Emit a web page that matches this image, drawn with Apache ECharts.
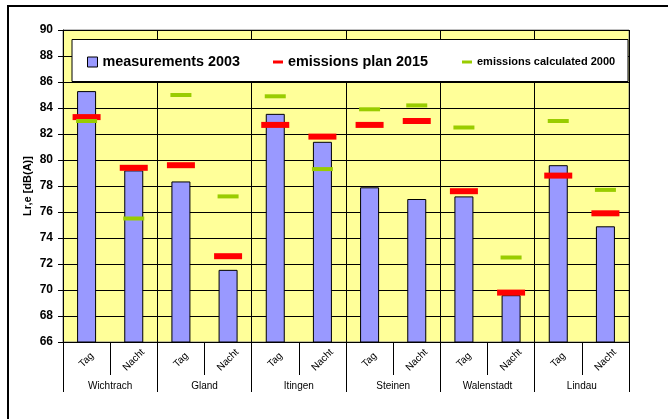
<!DOCTYPE html>
<html>
<head>
<meta charset="utf-8">
<script src="https://cdn.jsdelivr.net/npm/echarts@6/dist/echarts.min.js"></script>
<style>
html,body{margin:0;padding:0;background:#fff;}
#c{width:668px;height:419px;}
</style>
</head>
<body>
<div id="c"></div>
<script>
var groups = ['Wichtrach', 'Gland', 'Itingen', 'Steinen', 'Walenstadt', 'Lindau'];
var periods = ['Tag', 'Nacht'];
var measurements2003 = [85.3, 79.2, 78.35, 71.55, 83.55, 81.4, 77.9, 77.0, 77.2, 69.6, 79.6, 74.9];
var plan2015 = [83.3, 79.4, 79.6, 72.6, 82.7, 81.8, 82.7, 83.0, 77.6, 69.8, 78.8, 75.9];
var calc2000 = [83.0, 75.5, 85.0, 77.2, 84.9, 79.3, 83.9, 84.2, 82.5, 72.5, 83.0, 77.7];
var yMin = 66, yMax = 90, yStep = 2;

var categories = [];
groups.forEach(function () { periods.forEach(function (p) { categories.push(p); }); });

var FONT = "'Liberation Sans', Arial, sans-serif";
var chart = echarts.init(document.getElementById('c'), null, {renderer: 'canvas'});
chart.setOption({
  animation: false,
  backgroundColor: '#ffffff',
  textStyle: {fontFamily: FONT},
  graphic: [
    {type: 'rect', z: 0, shape: {x: 8, y: 6, width: 700, height: 460},
     style: {fill: 'none', stroke: '#000', lineWidth: 2}},
    {type: 'rect', z: 10, shape: {x: 72, y: 39.5, width: 556, height: 42},
     style: {fill: '#ffffff', stroke: '#000', lineWidth: 1}}
  ],
  legend: [
    {z: 20, left: 87, top: 54, padding: 0, itemWidth: 10, itemHeight: 10,
     data: [{name: 'measurements 2003', icon: 'rect', itemStyle: {color: '#9999FF', borderColor: '#000', borderWidth: 1}}],
     textStyle: {fontFamily: FONT, fontSize: 14.4, lineHeight: 16, fontWeight: 'bold', color: '#000'}},
    {z: 20, left: 273, top: 54, padding: 0, itemWidth: 10, itemHeight: 3,
     data: [{name: 'emissions plan 2015', icon: 'rect', itemStyle: {color: '#FF0000', borderWidth: 0}}],
     textStyle: {fontFamily: FONT, fontSize: 14.4, lineHeight: 16, fontWeight: 'bold', color: '#000'}},
    {z: 20, left: 462, top: 54, padding: 0, itemWidth: 10, itemHeight: 3,
     data: [{name: 'emissions calculated 2000', icon: 'rect', itemStyle: {color: '#99CC00', borderWidth: 0}}],
     textStyle: {fontFamily: FONT, fontSize: 11, lineHeight: 16, fontWeight: 'bold', color: '#000'}}
  ],
  grid: {left: 63, right: 39, top: 30, bottom: 77, show: true,
         backgroundColor: '#FFFF99', borderColor: '#808080', borderWidth: 1},
  xAxis: [
    {type: 'category', data: categories, position: 'bottom', boundaryGap: true,
     axisLine: {show: true, lineStyle: {color: '#000', width: 1}},
     axisTick: {show: true, interval: 0, length: 33, lineStyle: {color: '#000'}},
     axisLabel: {interval: 0, rotate: 45, align: 'center', verticalAlign: 'middle', margin: 18,
                 fontSize: 10, color: '#000', fontFamily: FONT},
     splitLine: {show: false}},
    {type: 'category', data: groups, position: 'bottom', boundaryGap: true,
     axisLine: {show: false},
     axisTick: {show: true, interval: 0, length: 50, lineStyle: {color: '#000'}},
     axisLabel: {interval: 0, margin: 39, fontSize: 10, color: '#000', fontFamily: FONT},
     splitLine: {show: true, interval: 0, lineStyle: {color: '#000', width: 1}}}
  ],
  yAxis: {type: 'value', min: yMin, max: yMax, interval: yStep,
    name: 'Lr,e [dB(A)]', nameLocation: 'middle', nameGap: 30, nameMoveOverlap: false,
    nameTextStyle: {fontSize: 11, fontWeight: 'bold', color: '#000', fontFamily: FONT},
    axisLine: {show: true, lineStyle: {color: '#000'}},
    axisTick: {show: true, length: 5, inside: false, lineStyle: {color: '#000'}},
    axisLabel: {fontSize: 12, fontWeight: 'bold', color: '#000', margin: 10, fontFamily: FONT},
    splitLine: {show: true, lineStyle: {color: '#000', width: 1}}},
  series: [
    {name: 'measurements 2003', type: 'bar', xAxisIndex: 0, data: measurements2003, barWidth: 19, z: 2,
     itemStyle: {color: '#9999FF', borderColor: '#000', borderWidth: 1}},
    {name: 'emissions plan 2015', type: 'scatter', xAxisIndex: 0, data: plan2015, z: 3,
     symbol: 'rect', symbolSize: [28, 6], itemStyle: {color: '#FF0000', opacity: 1}},
    {name: 'emissions calculated 2000', type: 'scatter', xAxisIndex: 0, data: calc2000, z: 4,
     symbol: 'rect', symbolSize: [21, 4], itemStyle: {color: '#99CC00', opacity: 1}}
  ]
});
</script>
</body>
</html>
